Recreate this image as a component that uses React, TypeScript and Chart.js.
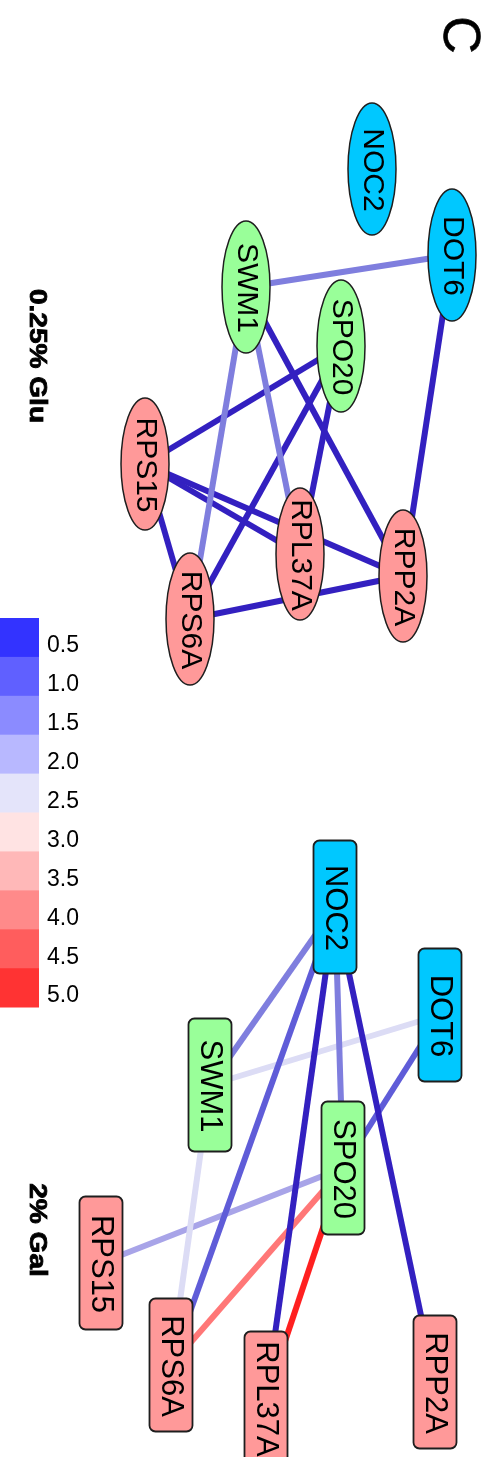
import React, { useEffect, useRef } from "react";
import { Chart, registerables } from "chart.js";

Chart.register(...registerables);

const W = 488;
const H = 1457;

// ---------- data ----------
const geneNames = ["NOC2", "DOT6", "SWM1", "SPO20", "RPS15", "RPS6A", "RPL37A", "RPP2A"];
const geneGroup = ["tf", "tf", "kin", "kin", "rib", "rib", "rib", "rib"];

// 0.25% Glu network layout (page coordinates)
const gluX = [372, 452, 246, 341, 145, 190, 300, 403];
const gluY = [169, 255, 287, 346, 464, 619, 554, 576];
const gluFrom = ["SWM1", "DOT6", "SWM1", "SWM1", "SWM1", "SPO20", "SPO20", "SPO20", "RPS15", "RPS15", "RPS15", "RPS6A"];
const gluTo = ["DOT6", "RPP2A", "RPS6A", "RPL37A", "RPP2A", "RPS15", "RPS6A", "RPL37A", "RPL37A", "RPP2A", "RPS6A", "RPP2A"];
const gluScore = [1.5, 0.5, 1.5, 1.5, 0.5, 0.5, 0.5, 0.5, 0.5, 0.5, 0.5, 0.5];

// 2% Gal network layout
const galX = [335, 440, 210, 343, 101, 171, 266, 435];
const galY = [907, 1015, 1085, 1168, 1263, 1365, 1398, 1382];
const galFrom = ["NOC2", "NOC2", "NOC2", "NOC2", "NOC2", "DOT6", "DOT6", "SWM1", "SPO20", "SPO20", "SPO20"];
const galTo = ["SWM1", "RPS6A", "RPL37A", "SPO20", "RPP2A", "SWM1", "SPO20", "RPS6A", "RPS15", "RPS6A", "RPL37A"];
const galScore = [1.5, 1.0, 0.5, 1.5, 0.5, 2.5, 1.0, 2.5, 2.0, 4.0, 5.0];

// colour legend
const legendValues = ["0.5", "1.0", "1.5", "2.0", "2.5", "3.0", "3.5", "4.0", "4.5", "5.0"];
const legendColors = ["#3333ff", "#6060ff", "#8b8bff", "#b8b8ff", "#e4e4fa", "#ffe3e3", "#ffb8b8", "#ff8a8a", "#ff5d5d", "#ff3333"];

const panelTitles = ["0.25% Glu", "2% Gal"];
const panelLetter = "C";

// ---------- styles ----------
const edgeColorByScore: Record<string, string> = {
  "0.5": "#3320c0",
  "1.0": "#5f5cd8",
  "1.5": "#7f7ede",
  "2.0": "#a8a4e8",
  "2.5": "#dcdcf5",
  "3.0": "#ffe0e0",
  "3.5": "#ffb0b0",
  "4.0": "#ff7777",
  "4.5": "#ff4c4c",
  "5.0": "#ff2020",
};
const groupFill: Record<string, string> = { tf: "#00c8ff", kin: "#99ff99", rib: "#ff9999" };

function edgeDatasets(xs: number[], ys: number[], from: string[], to: string[], score: number[]) {
  return from.map((f, i) => {
    const a = geneNames.indexOf(f);
    const b = geneNames.indexOf(to[i]);
    return {
      type: "scatter" as const,
      data: [
        { x: xs[a], y: ys[a] },
        { x: xs[b], y: ys[b] },
      ],
      showLine: true,
      borderColor: edgeColorByScore[score[i].toFixed(1)],
      borderWidth: 6,
      pointRadius: 0,
      pointHoverRadius: 0,
      fill: false,
    };
  });
}

function rotatedText(ctx: CanvasRenderingContext2D, text: string, x: number, y: number, font: string, sx = 1, strokeW = 0) {
  ctx.save();
  ctx.translate(x, y);
  ctx.rotate(Math.PI / 2);
  ctx.scale(sx, 1);
  ctx.font = font;
  ctx.fillStyle = "#000";
  ctx.textAlign = "center";
  ctx.textBaseline = "middle";
  ctx.fillText(text, 0, 0);
  if (strokeW > 0) {
    ctx.lineWidth = strokeW;
    ctx.strokeStyle = "#000";
    ctx.strokeText(text, 0, 0);
  }
  ctx.restore();
}

const networkPlugin = {
  id: "networkNodes",
  afterDatasetsDraw(chart: any) {
    const ctx: CanvasRenderingContext2D = chart.ctx;
    const xs = chart.scales.x;
    const ys = chart.scales.y;

    // top network: ellipses
    geneNames.forEach((g, i) => {
      const cx = xs.getPixelForValue(gluX[i]);
      const cy = ys.getPixelForValue(gluY[i]);
      ctx.save();
      ctx.beginPath();
      ctx.ellipse(cx, cy, 24, 66, 0, 0, Math.PI * 2);
      ctx.fillStyle = groupFill[geneGroup[i]];
      ctx.fill();
      ctx.lineWidth = 1.5;
      ctx.strokeStyle = "#1e1e1e";
      ctx.stroke();
      ctx.restore();
      rotatedText(ctx, g, cx, cy + 1, "30px 'Liberation Sans', Arial, sans-serif");
    });

    // bottom network: rounded rectangles
    geneNames.forEach((g, i) => {
      const cx = xs.getPixelForValue(galX[i]);
      const cy = ys.getPixelForValue(galY[i]);
      const w = 43;
      const h = 133;
      ctx.save();
      ctx.beginPath();
      (ctx as any).roundRect(cx - w / 2, cy - h / 2, w, h, 6);
      ctx.fillStyle = groupFill[geneGroup[i]];
      ctx.fill();
      ctx.lineWidth = 1.8;
      ctx.strokeStyle = "#1e1e1e";
      ctx.stroke();
      ctx.restore();
      rotatedText(ctx, g, cx, cy + 1, "31px 'Liberation Sans', Arial, sans-serif");
    });
  },
  afterDraw(chart: any) {
    const ctx: CanvasRenderingContext2D = chart.ctx;
    // colour legend
    const top = 618;
    const step = 38.9;
    legendValues.forEach((v, i) => {
      ctx.fillStyle = legendColors[i];
      ctx.fillRect(0, top + i * step, 39, step + 0.5);
      ctx.save();
      ctx.font = "23px 'Liberation Sans', Arial, sans-serif";
      ctx.fillStyle = "#000";
      ctx.textAlign = "left";
      ctx.textBaseline = "middle";
      ctx.fillText(v, 47, top + i * step + 28);
      ctx.restore();
    });
    // titles
    rotatedText(ctx, panelTitles[0], 36, 356, "bold 23px 'Liberation Sans', Arial, sans-serif", 1.22, 0.8);
    rotatedText(ctx, panelTitles[1], 36, 1230, "bold 23px 'Liberation Sans', Arial, sans-serif", 1.22, 0.8);
    rotatedText(ctx, panelLetter, 458, 35, "52px 'Liberation Sans', Arial, sans-serif", 1, 0.6);
  },
};

export default function App() {
  const ref = useRef<HTMLCanvasElement | null>(null);
  useEffect(() => {
    if (!ref.current) return;
    const chart = new Chart(ref.current, {
      type: "scatter",
      data: {
        datasets: [
          ...edgeDatasets(gluX, gluY, gluFrom, gluTo, gluScore),
          ...edgeDatasets(galX, galY, galFrom, galTo, galScore),
        ] as any,
      },
      options: {
        animation: false,
        responsive: false,
        devicePixelRatio: 1,
        layout: { padding: 0 },
        plugins: { legend: { display: false }, tooltip: { enabled: false } },
        events: [],
        scales: {
          x: { type: "linear", min: 0, max: W, display: false },
          y: { type: "linear", min: 0, max: H, reverse: true, display: false },
        },
      },
      plugins: [networkPlugin],
    });
    return () => chart.destroy();
  }, []);
  return (
    <div style={{ position: "absolute", left: 0, top: 0, width: W, height: H, background: "#fff" }}>
      <canvas ref={ref} width={W} height={H} style={{ display: "block", width: W, height: H }} />
    </div>
  );
}
